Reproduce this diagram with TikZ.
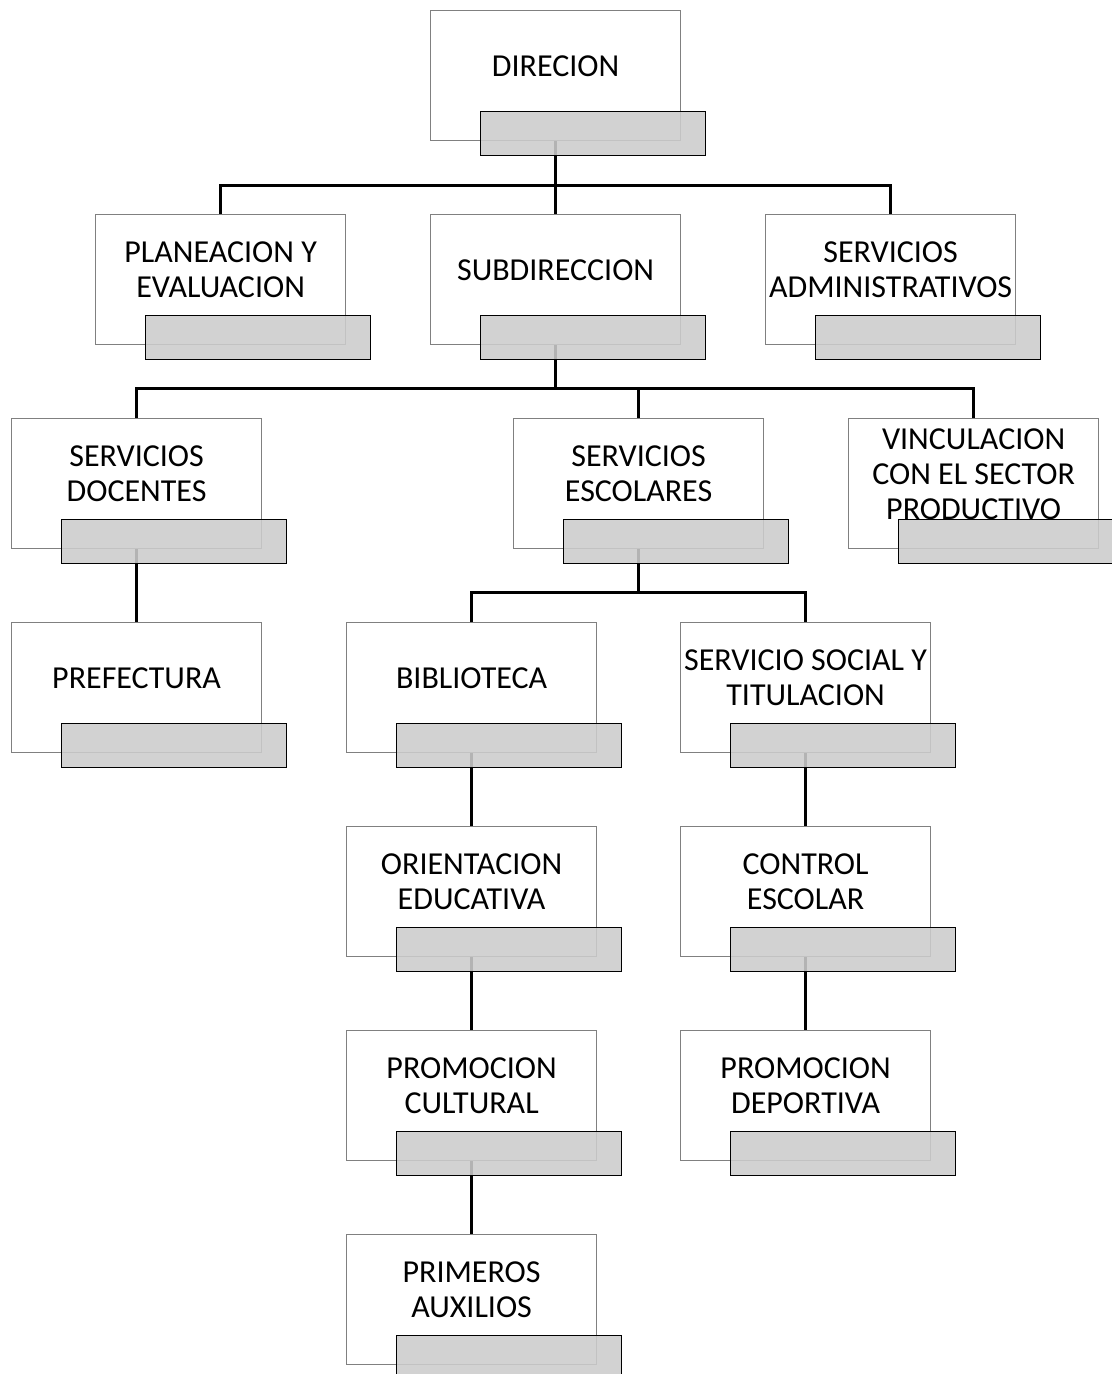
\documentclass[tikz,border=0pt]{standalone}
\usepackage{fontspec}
\setmainfont{Carlito}
\usetikzlibrary{calc,backgrounds}

\begin{document}
\begin{tikzpicture}[x=0.5pt,y=-0.5pt,
    caja/.style={draw=black!50, line width=0.6pt, fill=white, minimum width=125pt, minimum height=65pt, inner sep=0pt, anchor=north west},
    pestana/.style={draw=black, line width=0.6pt, fill=black!20, fill opacity=0.88, minimum width=112.5pt, minimum height=22pt, inner sep=0pt, anchor=north west},
    texto/.style={align=center, inner sep=0pt, font=\fontsize{16}{17.5}\selectfont},
    linea/.style={line width=1.4pt}]

        \useasboundingbox (0,0) rectangle (1112,1374);

        \foreach \n/\x/\y/\t in {dir/430/10/{DIRECION},
            plan/95/214/{PLANEACION Y\\EVALUACION},
            sub/430/214/{SUBDIRECCION},
            adm/765/214/{SERVICIOS\\ADMINISTRATIVOS},
            doc/11/418/{SERVICIOS\\DOCENTES},
            esc/513/418/{SERVICIOS\\ESCOLARES},
            vin/848/418/{VINCULACION\\CON EL SECTOR\\PRODUCTIVO},
            pre/11/622/{PREFECTURA},
            bib/346/622/{BIBLIOTECA},
            soc/680/622/{SERVICIO SOCIAL Y\\TITULACION},
            ori/346/826/{ORIENTACION\\EDUCATIVA},
            con/680/826/{CONTROL\\ESCOLAR},
            cul/346/1030/{PROMOCION\\CULTURAL},
            dep/680/1030/{PROMOCION\\DEPORTIVA},
            aux/346/1234/{PRIMEROS\\AUXILIOS}} {
            \node[caja] (\n) at (\x,\y) {};
            \node[texto] (\n-txt) at ($(\n.north)+(0,56)$) {\t};
            \node[pestana] (\n-tab) at ($(\n.south west)+(50,-30)$) {};
        }

        % conectores
        \begin{scope}[on background layer]
            \draw[linea] (dir.south) -- (sub.north);
            \draw[linea] (dir.south) -- ++(0,44) -| (plan.north);
            \draw[linea] (dir.south) -- ++(0,44) -| (adm.north);

            \draw[linea] (sub.south) -- ++(0,43) -| (doc.north);
            \draw[linea] (sub.south) -- ++(0,43) -| (esc.north);
            \draw[linea] (sub.south) -- ++(0,43) -| (vin.north);

            \draw[linea] (esc.south) -- ++(0,43) -| (bib.north);
            \draw[linea] (esc.south) -- ++(0,43) -| (soc.north);

            \draw[linea] (doc.south) -- (pre.north);
            \draw[linea] (bib.south) -- (ori.north);
            \draw[linea] (ori.south) -- (cul.north);
            \draw[linea] (cul.south) -- (aux.north);
            \draw[linea] (soc.south) -- (con.north);
            \draw[linea] (con.south) -- (dep.north);
        \end{scope}
    \end{tikzpicture}
\end{document}
